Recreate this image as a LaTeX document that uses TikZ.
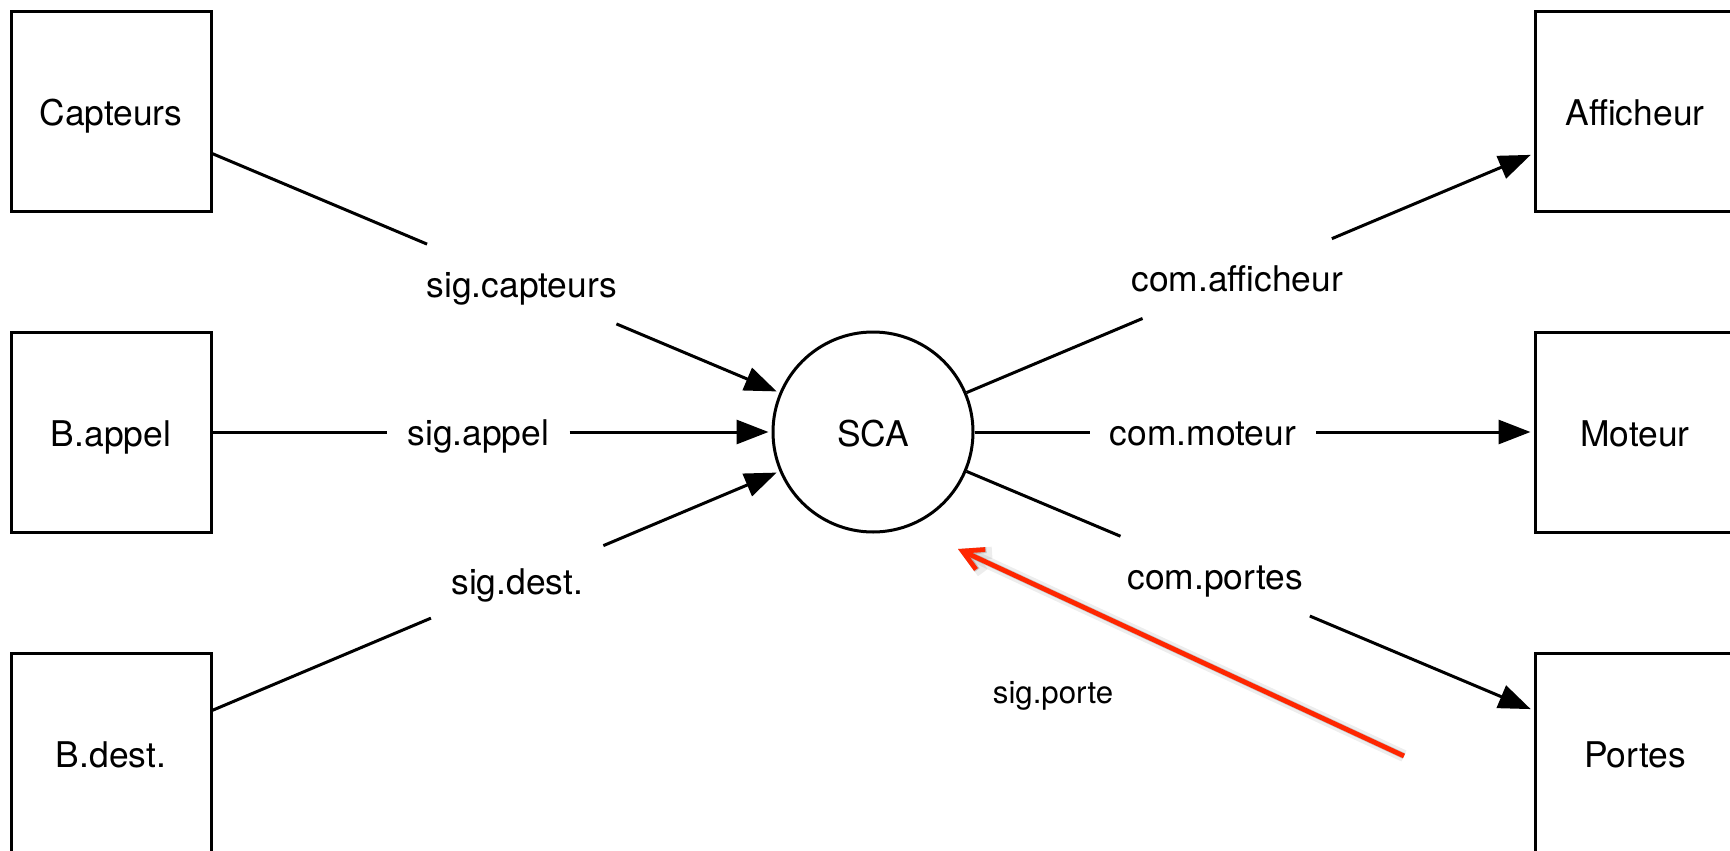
\documentclass[tikz,border=0pt]{standalone}
\usepackage{fontspec}
\setmainfont{TeX Gyre Heros}
\usetikzlibrary{arrows.meta}
\definecolor{annotred}{HTML}{FF2600}
\begin{document}
\begin{tikzpicture}[x=0.5pt, y=-0.5pt,
  every node/.style={font=\fontsize{17.7pt}{21pt}\selectfont},
  block/.style={draw, line width=1.5pt, minimum size=100pt, inner sep=0pt,
    text height=14pt, text depth=0pt},
  proc/.style={draw, circle, line width=1.5pt, minimum size=100pt, inner sep=0pt,
    text height=14pt, text depth=0pt},
  flow/.style={inner xsep=10pt, inner ysep=13.25pt, text height=13pt, text depth=0pt},
  wire/.style={line width=1.5pt},
  arr/.style={wire, -{Triangle[length=16pt,width=12pt]}, shorten >=1.5pt},
  note/.style={annotred, line width=2.4pt, -{Straight Barb[length=10pt,width=11pt]}},
  noteshadow/.style={black, line width=3pt, opacity=0.18, -{Straight Barb[length=10pt,width=11pt]}},
]
\useasboundingbox (0,0) rectangle (1730,851);

% external entities and the central process
\node[block] (cap) at (111,111) {Capteurs};
\node[block] (app) at (111,432) {B.appel};
\node[block] (dst) at (111,753) {B.dest.};
\node[proc]  (sca) at (873,432) {SCA};
\node[block] (aff) at (1635,111) {Afficheur};
\node[block] (mot) at (1635,432) {Moteur};
\node[block] (prt) at (1635,753) {Portes};

% flow labels sitting on the centre lines
\path (cap.center) -- node[flow, pos=0.539] (lcap) {sig.capteurs} (sca.center);
\path (app.center) -- node[flow, pos=0.482] (lapp) {sig.appel} (sca.center);
\path (dst.center) -- node[flow, pos=0.533] (ldst) {sig.dest.} (sca.center);
\path (sca.center) -- node[flow, pos=0.478] (laff) {com.afficheur} (aff.center);
\path (sca.center) -- node[flow, pos=0.433] (lmot) {com.moteur} (mot.center);
\path (sca.center) -- node[flow, pos=0.449] (lprt) {com.portes} (prt.center);

% incoming flows
\draw[wire] (cap) -- (lcap);
\draw[arr]  (lcap) -- (sca);
\draw[wire] (app) -- (lapp);
\draw[arr]  (lapp) -- (sca);
\draw[wire] (dst) -- (ldst);
\draw[arr]  (ldst) -- (sca);

% outgoing flows
\draw[wire] (sca) -- (laff);
\draw[arr]  (laff) -- (aff);
\draw[wire] (sca) -- (lmot);
\draw[arr]  (lmot) -- (mot);
\draw[wire] (sca) -- (lprt);
\draw[arr]  (lprt) -- (prt);

% hand-added red annotation arrow with its soft shadow
\coordinate (rtail) at (1404,756);
\coordinate (rtip)  at (958,549);
\begin{scope}[shift={(1,5)}]
  \draw[noteshadow, line width=6pt, opacity=0.07] (rtail) -- (rtip);
  \draw[noteshadow] (rtail) -- (rtip);
\end{scope}
\draw[note] (rtail) -- (rtip);
\node[font=\fontsize{15.6pt}{18pt}\selectfont, anchor=base] (lporte) at (1053,703) {sig.porte};
\end{tikzpicture}
\end{document}
